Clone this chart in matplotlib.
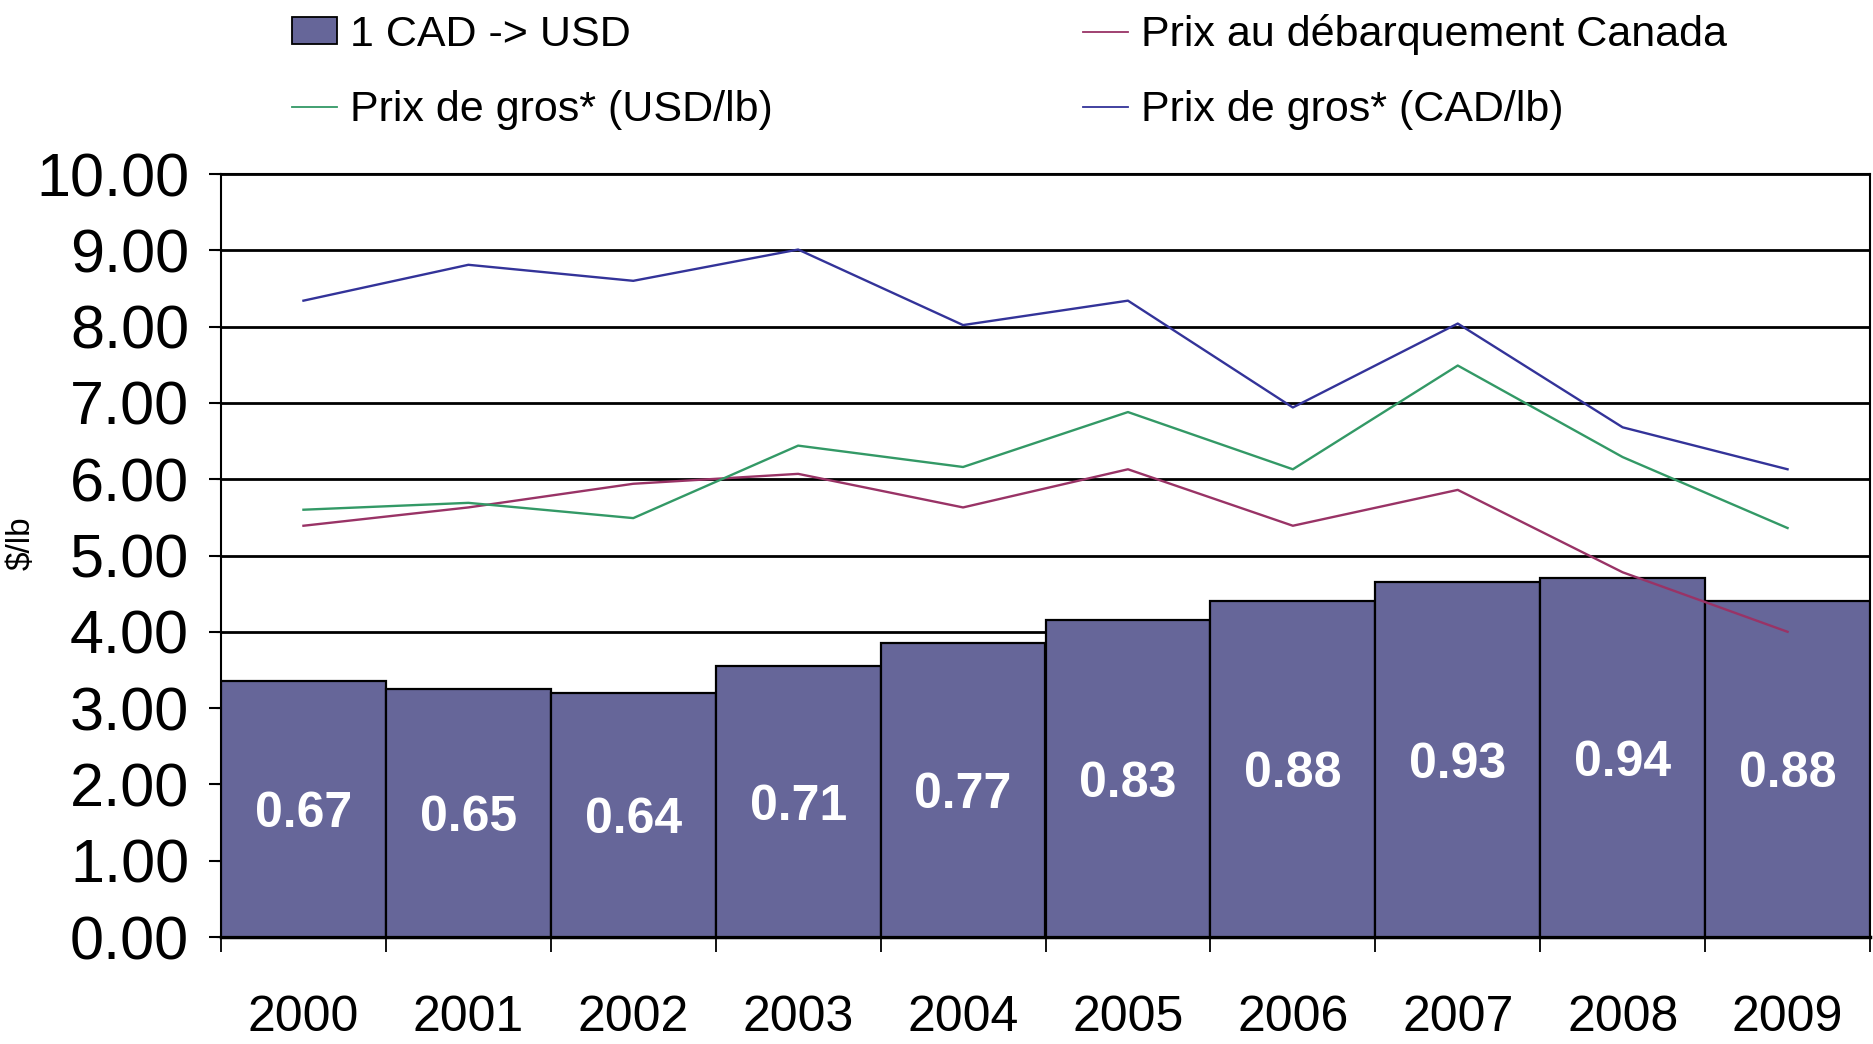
import matplotlib
matplotlib.use("Agg")
import matplotlib.pyplot as plt
import numpy as np

years = ["2000", "2001", "2002", "2003", "2004", "2005", "2006", "2007", "2008", "2009"]
cad_usd = [0.67, 0.65, 0.64, 0.71, 0.77, 0.83, 0.88, 0.93, 0.94, 0.88]
prix_debarquement = [5.39, 5.63, 5.94, 6.07, 5.63, 6.13, 5.39, 5.86, 4.78, 4.00]
prix_gros_usd = [5.60, 5.69, 5.49, 6.44, 6.16, 6.88, 6.13, 7.49, 6.29, 5.36]
prix_gros_cad = [8.34, 8.81, 8.60, 9.01, 8.02, 8.34, 6.94, 8.04, 6.68, 6.13]
yticks = [0, 1, 2, 3, 4, 5, 6, 7, 8, 9, 10]

plt.rcParams['font.family'] = ['Liberation Sans', 'DejaVu Sans']

W, H = 1874, 1044
fig = plt.figure(figsize=(W / 100, H / 100), dpi=100)
ax = fig.add_axes([221 / W, 1 - 937 / H, (1870 - 221) / W, (937 - 174) / H])
x = np.arange(len(years))

# bars on a hidden secondary scale (0..2)
bars = ax.bar(x, cad_usd, width=1.0, color="#666699", edgecolor="black",
              linewidth=1.6, zorder=3, label="1 CAD -> USD")
ax.set_ylim(0, 2)
ax.set_xlim(-0.5, len(years) - 0.5)
ax.set_yticks(np.array(yticks) / 5.0)
ax.yaxis.grid(True, color="black", linewidth=2.0, zorder=0)
ax.set_axisbelow(True)
ax.tick_params(axis="y", left=False, labelleft=False)
anns = ax.bar_label(bars, labels=[f"{v:.2f}" for v in cad_usd], label_type="center",
                    color="white", fontsize=36, fontweight="bold")
for a in anns:
    a.set_va("center_baseline")

# x ticks
ax.set_xticks(x)
ax.set_xticklabels(years, fontsize=36)
ax.set_xticks(np.arange(-0.5, len(years)), minor=True)
ax.tick_params(axis="x", which="major", length=0, pad=42)
ax.tick_params(axis="x", which="minor", length=11, width=1.3, color="black")

for s in ax.spines.values():
    s.set_color("black")
    s.set_linewidth(1.5)
ax.spines["bottom"].set_linewidth(2.5)

# lines on primary $/lb scale
ax2 = ax.twinx()
ax2.patch.set_visible(False)
l1, = ax2.plot(x, prix_debarquement, color="#993366", lw=1.7, label="Prix au débarquement Canada")
l2, = ax2.plot(x, prix_gros_usd, color="#339966", lw=1.7, label="Prix de gros* (USD/lb)")
l3, = ax2.plot(x, prix_gros_cad, color="#333399", lw=1.7, label="Prix de gros* (CAD/lb)")
ax2.set_ylim(0, 10)
ax2.set_yticks(yticks)
ax2.set_yticklabels([f"{v:.2f}" for v in yticks], fontsize=44)
ax2.yaxis.set_ticks_position("left")
ax2.yaxis.set_label_position("left")
ax2.tick_params(axis="y", length=9, width=1.5, pad=14, color="black")
ax2.set_ylabel("$/lb", fontsize=24)
ax2.yaxis.set_label_coords(-0.112, 0.516)
for s in ax2.spines.values():
    s.set_visible(False)

leg = fig.legend([bars, l2, l1, l3],
                 ["1 CAD -> USD", "Prix de gros* (USD/lb)",
                  "Prix au débarquement Canada", "Prix de gros* (CAD/lb)"],
                 ncol=2, loc="upper left", bbox_to_anchor=(292 / W, 1 - 14 / H),
                 frameon=False, fontsize=31, borderpad=0, borderaxespad=0,
                 handlelength=1.05, handletextpad=0.3, columnspacing=7.2,
                 labelspacing=0.82, handleheight=0.6)
for h in leg.legend_handles:
    if hasattr(h, "set_linewidth"):
        h.set_linewidth(1.3)

fig.savefig("out.png", dpi=100)
